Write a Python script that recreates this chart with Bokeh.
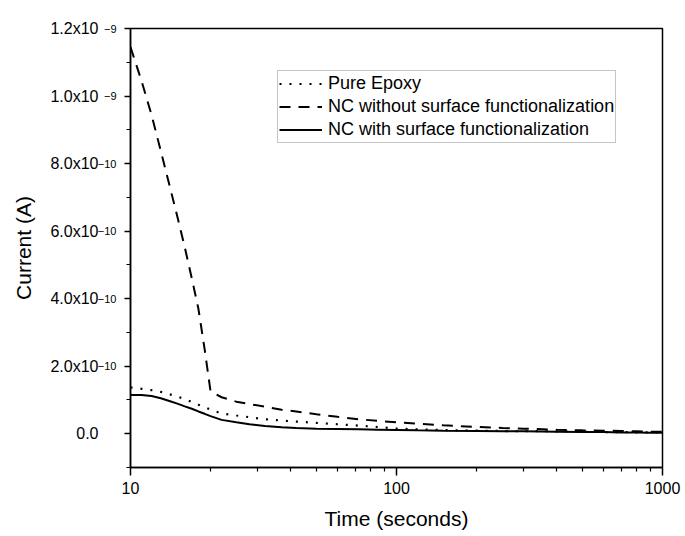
from bokeh.plotting import figure
from bokeh.models import (FixedTicker, Legend, LegendItem, Range1d, LinearAxis,
                          CustomJSTickFormatter)
from bokeh.embed import file_html
from bokeh.resources import INLINE

# ---------------- data ----------------
time_s = [10, 11, 12, 13, 14, 15, 16, 17, 18, 19, 20, 22, 25, 28, 32, 37, 42,
          50, 60, 72, 85, 100, 120, 150, 200, 250, 300, 400, 500, 600, 700,
          800, 900, 1000]

pure_epoxy = [1.37e-10, 1.33e-10, 1.29e-10, 1.24e-10, 1.17e-10, 1.10e-10,
              1.03e-10, 0.94e-10, 0.86e-10, 0.79e-10, 0.71e-10, 0.60e-10,
              0.54e-10, 0.49e-10, 0.43e-10, 0.39e-10, 0.36e-10, 0.32e-10,
              0.28e-10, 0.24e-10, 0.20e-10, 0.15e-10, 0.13e-10, 0.11e-10,
              0.09e-10, 0.08e-10, 0.08e-10, 0.07e-10, 0.06e-10, 0.05e-10,
              0.05e-10, 0.04e-10, 0.04e-10, 0.04e-10]

nc_without = [11.45e-10, 10.45e-10, 9.44e-10, 8.37e-10, 7.37e-10, 6.43e-10,
              5.52e-10, 4.60e-10, 3.70e-10, 2.50e-10, 1.25e-10, 1.08e-10,
              0.95e-10, 0.88e-10, 0.80e-10, 0.71e-10, 0.66e-10, 0.58e-10,
              0.50e-10, 0.43e-10, 0.38e-10, 0.34e-10, 0.30e-10, 0.25e-10,
              0.20e-10, 0.17e-10, 0.15e-10, 0.12e-10, 0.10e-10, 0.09e-10,
              0.08e-10, 0.07e-10, 0.06e-10, 0.06e-10]

nc_with = [1.15e-10, 1.15e-10, 1.12e-10, 1.05e-10, 0.97e-10, 0.89e-10,
           0.81e-10, 0.74e-10, 0.66e-10, 0.59e-10, 0.52e-10, 0.41e-10,
           0.34e-10, 0.28e-10, 0.23e-10, 0.19e-10, 0.17e-10, 0.15e-10,
           0.14e-10, 0.13e-10, 0.12e-10, 0.11e-10, 0.10e-10, 0.09e-10,
           0.08e-10, 0.07e-10, 0.07e-10, 0.06e-10, 0.05e-10, 0.05e-10,
           0.04e-10, 0.04e-10, 0.03e-10, 0.03e-10]

series_names = ["Pure Epoxy", "NC without surface functionalization",
                "NC with surface functionalization"]

x_ticks = [10, 100, 1000]
x_tick_labels = ["10", "100", "1000"]
x_minor = [20, 30, 40, 50, 60, 70, 80, 90, 200, 300, 400, 500, 600, 700, 800, 900]
y_ticks = [0.0, 2e-10, 4e-10, 6e-10, 8e-10, 1e-9, 1.2e-9]
y_minor = [-1e-10, 1e-10, 3e-10, 5e-10, 7e-10, 9e-10, 1.1e-9]
y_tick_base = ["0.0", "2.0x10", "4.0x10", "6.0x10", "8.0x10", "1.0x10", "1.2x10"]
y_tick_exp = ["", "\u221210", "\u221210", "\u221210", "\u221210", "\u22129", "\u22129"]

FONT = "Liberation Sans"

lookup_code = """
for (let i = 0; i < vals.length; i++) {
    if (Math.abs(tick - vals[i]) <= 1e-6 * Math.max(Math.abs(vals[i]), 1e-12)) {
        return labels[i];
    }
}
return '';
"""

p = figure(frame_width=532, frame_height=439, x_axis_type="log",
           x_range=Range1d(10, 1000), y_range=Range1d(-1e-10, 1.2e-9),
           output_backend="svg", toolbar_location=None,
           min_border_left=130, min_border_right=23,
           min_border_top=28, min_border_bottom=69)

p.background_fill_color = "white"
p.border_fill_color = "white"
p.outline_line_color = "black"
p.outline_line_width = 1.5
p.xgrid.visible = False
p.ygrid.visible = False

r1 = p.line(time_s, pure_epoxy, line_color="black", line_width=2.2, line_dash="2 8")
r2 = p.line(time_s, nc_without, line_color="black", line_width=2.0, line_dash="11 8")
r3 = p.line(time_s, nc_with, line_color="black", line_width=2.0)

# x axis
xa = p.xaxis[0]
xa.ticker = FixedTicker(ticks=x_ticks, minor_ticks=x_minor)
xa.formatter = CustomJSTickFormatter(args=dict(vals=x_ticks, labels=x_tick_labels),
                                     code=lookup_code)
xa.axis_label = "Time (seconds)"
xa.axis_label_text_font = FONT
xa.axis_label_text_font_size = "21px"
xa.axis_label_text_font_style = "normal"
xa.axis_label_text_color = "black"
xa.axis_label_standoff = 10
xa.major_label_text_font = FONT
xa.major_label_text_font_size = "16px"
xa.major_label_text_color = "black"
xa.major_label_standoff = 6
xa.axis_line_width = 1.5
xa.major_tick_line_width = 1.5
xa.minor_tick_line_width = 1.2
xa.major_tick_in = 0
xa.major_tick_out = 8
xa.minor_tick_in = 0
xa.minor_tick_out = 4

# inner y axis: ticks + superscript exponents
ya = p.yaxis[0]
ya.ticker = FixedTicker(ticks=y_ticks, minor_ticks=y_minor)
ya.formatter = CustomJSTickFormatter(args=dict(vals=y_ticks, labels=y_tick_exp),
                                     code=lookup_code)
ya.major_label_text_font = FONT
ya.major_label_text_font_size = "11px"
ya.major_label_text_color = "black"
ya.major_label_standoff = 8
ya.axis_label_standoff = 0
ya.axis_line_width = 1.5
ya.major_tick_line_width = 1.5
ya.minor_tick_line_width = 1.2
ya.major_tick_in = 0
ya.major_tick_out = 6
ya.minor_tick_in = 0
ya.minor_tick_out = 4

# outer y axis: mantissa part of the tick labels + axis title
yb = LinearAxis(ticker=FixedTicker(ticks=y_ticks, minor_ticks=[]),
                formatter=CustomJSTickFormatter(args=dict(vals=y_ticks, labels=y_tick_base),
                                                code=lookup_code))
yb.axis_line_color = None
yb.major_tick_line_color = None
yb.minor_tick_line_color = None
yb.major_tick_in = 0
yb.major_tick_out = 0
yb.minor_tick_in = 0
yb.minor_tick_out = 0
yb.major_label_standoff = -4
yb.major_label_text_font = FONT
yb.major_label_text_font_size = "16px"
yb.major_label_text_color = "black"
yb.axis_label = "Current (A)"
yb.axis_label_text_font = FONT
yb.axis_label_text_font_size = "21px"
yb.axis_label_text_font_style = "normal"
yb.axis_label_text_color = "black"
yb.axis_label_standoff = 12
p.add_layout(yb, "left")

legend = Legend(items=[LegendItem(label=series_names[0], renderers=[r1]),
                       LegendItem(label=series_names[1], renderers=[r2]),
                       LegendItem(label=series_names[2], renderers=[r3])],
                location=(147, 324))
legend.margin = 0
legend.padding = 1
legend.spacing = 0
legend.glyph_width = 43
legend.glyph_height = 23
legend.label_height = 23
legend.label_standoff = 6
legend.label_text_font = FONT
legend.label_text_font_size = "18px"
legend.label_text_color = "black"
legend.border_line_color = "#8c8c8c"
legend.border_line_width = 1
legend.background_fill_color = "white"
legend.background_fill_alpha = 1.0
p.add_layout(legend)

open("out.html", "w").write(file_html(p, INLINE))
